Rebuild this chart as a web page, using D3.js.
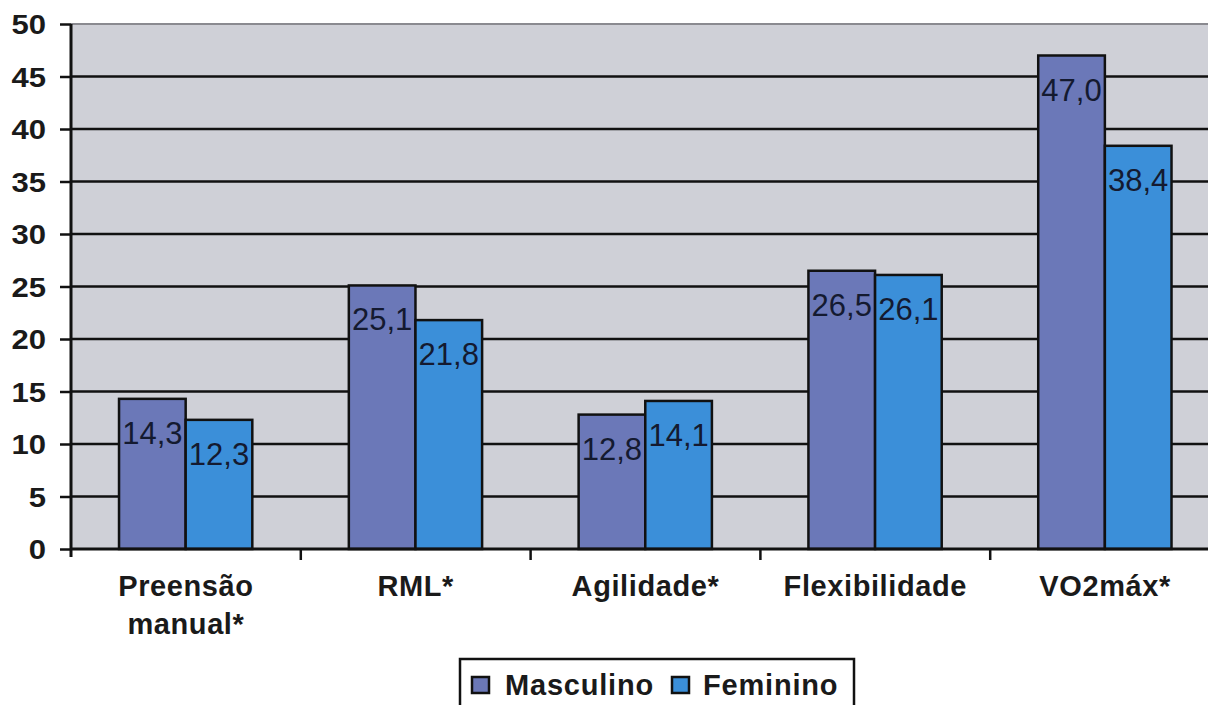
<!DOCTYPE html>
<html><head><meta charset="utf-8">
<script src="https://cdn.jsdelivr.net/npm/d3@7"></script>
<style>body{margin:0;background:#fff}svg{display:block}</style>
</head><body>
<svg id="c" width="1208" height="705"></svg>
<script>
const categories = [["Preensão","manual*"],["RML*"],["Agilidade*"],["Flexibilidade"],["VO2máx*"]];
const seriesNames = ["Masculino","Feminino"];
const masculino = [14.3, 25.1, 12.8, 26.5, 47.0];
const feminino  = [12.3, 21.8, 14.1, 26.1, 38.4];
const yTicks = [0,5,10,15,20,25,30,35,40,45,50];
const colors = ["#6b78b8","#3b8fd9"];

const svg = d3.select("#c");
const FONT = "'Liberation Sans', Arial, sans-serif";
const catKeys = categories.map(c=>c.join(" "));
const x0 = d3.scaleBand().domain(catKeys).range([71,1220]).padding(0);
const bw = x0.bandwidth();
const x1 = d3.scaleBand().domain(seriesNames).range([bw*0.209, bw*0.789]).padding(0);
const y = d3.scaleLinear().domain([0,50]).range([549,24]);

// plot background
svg.append("rect").attr("x",71).attr("y",y(50)).attr("width",1208-71).attr("height",y(0)-y(50)).attr("fill","#cfd0d7");
svg.append("line").attr("x1",71).attr("x2",1208).attr("y1",y(50)).attr("y2",y(50)).attr("stroke","#8a8a90").attr("stroke-width",2);

// gridlines
svg.append("g").selectAll("line").data(yTicks.filter(t=>t>0&&t<50)).join("line")
  .attr("x1",71).attr("x2",1208).attr("y1",d=>y(d)).attr("y2",d=>y(d))
  .attr("stroke","#111").attr("stroke-width",2.5);

// y axis
const yAxis = d3.axisLeft(y).tickValues(yTicks).tickSize(11).tickFormat(d3.format("d"));
const ga = svg.append("g").attr("transform","translate(71,0)").call(yAxis);
ga.select(".domain").attr("stroke","#111").attr("stroke-width",3).attr("d","M0,"+y(50)+"V"+(y(0)+8));
ga.selectAll(".tick line").attr("stroke","#111").attr("stroke-width",2.5);
ga.selectAll(".tick text").attr("font-family",FONT).attr("font-weight","bold").attr("font-size",27).attr("fill","#1a1a1a")
  .attr("transform","scale(1.15,1)").attr("x",-25/1.15).attr("dy","0.36em");

// bars
const data = categories.map((c,i)=>({cat:catKeys[i], vals:[masculino[i],feminino[i]]}));
const groups = svg.append("g").selectAll("g").data(data).join("g").attr("transform",d=>`translate(${x0(d.cat)},0)`);
groups.selectAll("rect").data(d=>d.vals.map((v,j)=>({s:seriesNames[j],v,j}))).join("rect")
  .attr("x",d=>x1(d.s)).attr("width",x1.bandwidth())
  .attr("y",d=>y(d.v)).attr("height",d=>y(0)-y(d.v))
  .attr("fill",d=>colors[d.j]).attr("stroke","#111").attr("stroke-width",2.5);
groups.selectAll("text").data(d=>d.vals.map((v,j)=>({s:seriesNames[j],v,j}))).join("text")
  .attr("x",d=>x1(d.s)+x1.bandwidth()/2).attr("y",d=>y(d.v)+45)
  .attr("text-anchor","middle").attr("font-family",FONT).attr("font-size",31).attr("fill","#141a30")
  .text(d=>d3.format(".1f")(d.v).replace(".",","));

// x axis
svg.append("line").attr("x1",71).attr("x2",1208).attr("y1",y(0)).attr("y2",y(0)).attr("stroke","#111").attr("stroke-width",3);
const xAxis = d3.axisBottom(x0).tickSize(0).tickFormat("");
svg.append("g").attr("transform",`translate(0,${y(0)})`).call(xAxis).select(".domain").remove();
svg.append("g").selectAll("line").data(d3.range(1,5)).join("line")
  .attr("x1",i=>x0.range()[0]+i*bw).attr("x2",i=>x0.range()[0]+i*bw)
  .attr("y1",y(0)).attr("y2",y(0)+11).attr("stroke","#111").attr("stroke-width",2.5);
const xl = svg.append("g").selectAll("text").data(categories).join("text")
  .attr("x",(d,i)=>x0(catKeys[i])+bw/2).attr("y",596)
  .attr("text-anchor","middle").attr("font-family",FONT).attr("font-weight","bold").attr("font-size",29).attr("letter-spacing",0.6).attr("fill","#1a1a1a");
xl.each(function(d){
  const t=d3.select(this);
  d.forEach((line,k)=>t.append("tspan").attr("x",t.attr("x")).attr("dy",k?38:0).text(line));
});

// legend
const lg = svg.append("g");
lg.append("rect").attr("x",460).attr("y",659).attr("width",394).attr("height",60).attr("fill","#fff").attr("stroke","#111").attr("stroke-width",2.5);
const lx=[472,672], tx=[505,703];
seriesNames.forEach((s,i)=>{
  lg.append("rect").attr("x",lx[i]).attr("y",677).attr("width",17).attr("height",16).attr("fill",colors[i]).attr("stroke","#111").attr("stroke-width",2.5);
  lg.append("text").attr("x",tx[i]).attr("y",695).attr("font-family",FONT).attr("font-weight","bold").attr("font-size",29).attr("letter-spacing",0.8).attr("fill","#1a1a1a").text(s);
});
</script>
</body></html>
